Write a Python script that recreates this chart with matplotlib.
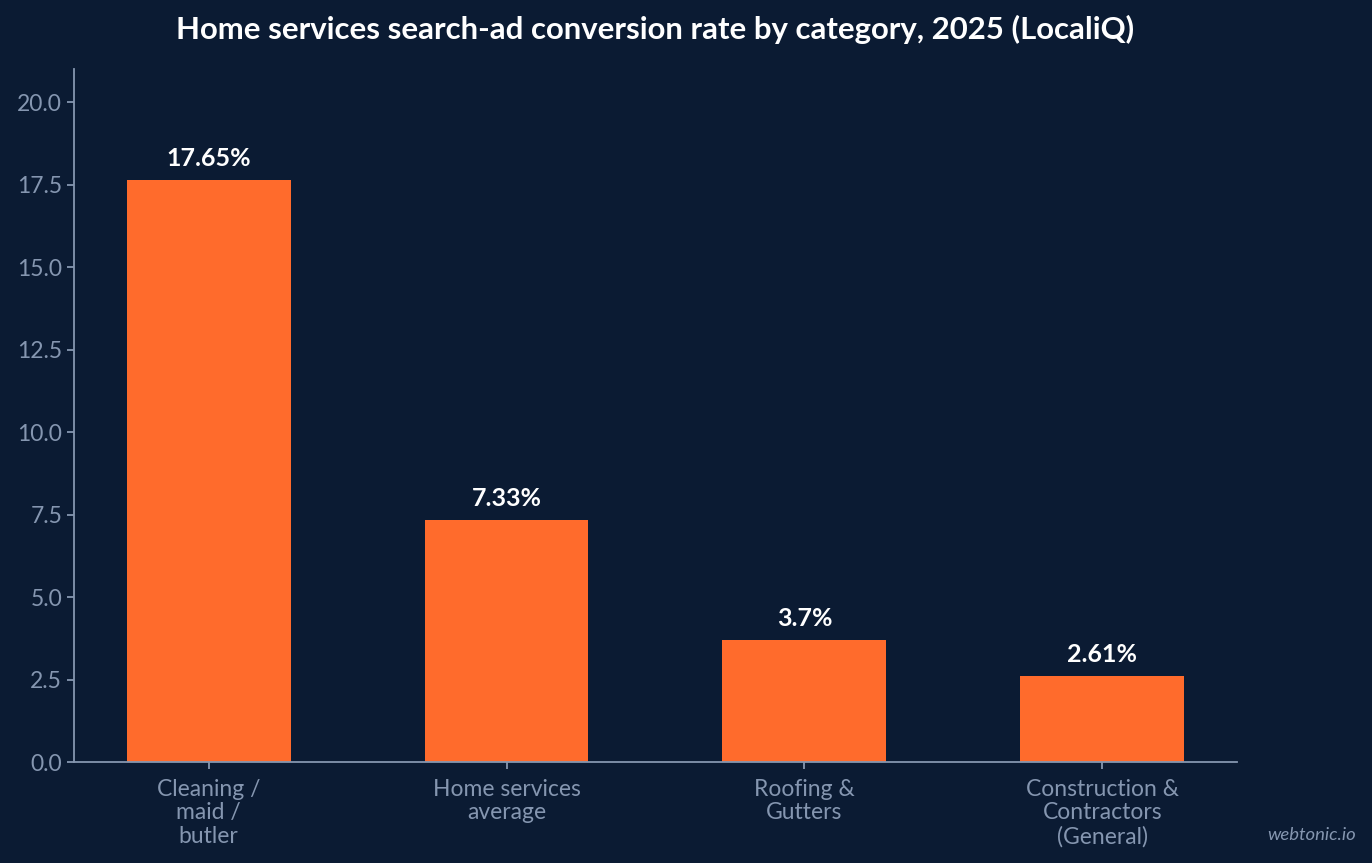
import matplotlib
matplotlib.use('Agg')
import matplotlib.pyplot as plt

# Data
categories = ['Cleaning /\nmaid /\nbutler', 'Home services\naverage',
              'Roofing &\nGutters', 'Construction &\nContractors\n(General)']
rates = [17.65, 7.33, 3.7, 2.61]
labels = ['17.65%', '7.33%', '3.7%', '2.61%']
yticks = [0.0, 2.5, 5.0, 7.5, 10.0, 12.5, 15.0, 17.5, 20.0]

BG = '#0b1b33'
ORANGE = '#ff6b2c'
MUTED = '#8596b0'

plt.rcParams['font.family'] = ['Lato', 'DejaVu Sans']

fig = plt.figure(figsize=(13.72, 8.63), dpi=100, facecolor=BG)
ax = fig.add_axes([0.0539, 0.117, 0.8477, 0.803])
ax.set_facecolor(BG)

x = range(len(categories))
bars = ax.bar(x, rates, width=0.55, color=ORANGE, zorder=2)

for b, lab in zip(bars, labels):
    ax.annotate(lab, (b.get_x() + b.get_width() / 2, b.get_height()),
                xytext=(0, 7), textcoords='offset points',
                ha='center', va='bottom', color='white',
                fontsize=18, fontweight='bold')

ax.set_ylim(0, 21)
ax.set_yticks(yticks)
ax.set_yticklabels(['{:.1f}'.format(v) for v in yticks])
ax.set_xticks(list(x))
ax.set_xticklabels(categories, linespacing=1.16)

for s in ['top', 'right']:
    ax.spines[s].set_visible(False)
for s in ['left', 'bottom']:
    ax.spines[s].set_color(MUTED)
    ax.spines[s].set_linewidth(1.3)
ax.tick_params(colors=MUTED, labelsize=16.5, length=5, width=1.3)
ax.tick_params(axis='x', pad=7)

# title centred over the plot area
ax_pos = ax.get_position()
fig.text((ax_pos.x0 + ax_pos.x1) / 2, 0.966,
         'Home services search-ad conversion rate by category, 2025 (LocaliQ)',
         ha='center', va='center', color='white', fontsize=22.4, fontweight='bold')

fig.text(0.988, 0.033, 'webtonic.io', ha='right', va='center',
         color=MUTED, fontsize=13.3, style='italic')

fig.savefig('out.png', dpi=100, facecolor=BG)
